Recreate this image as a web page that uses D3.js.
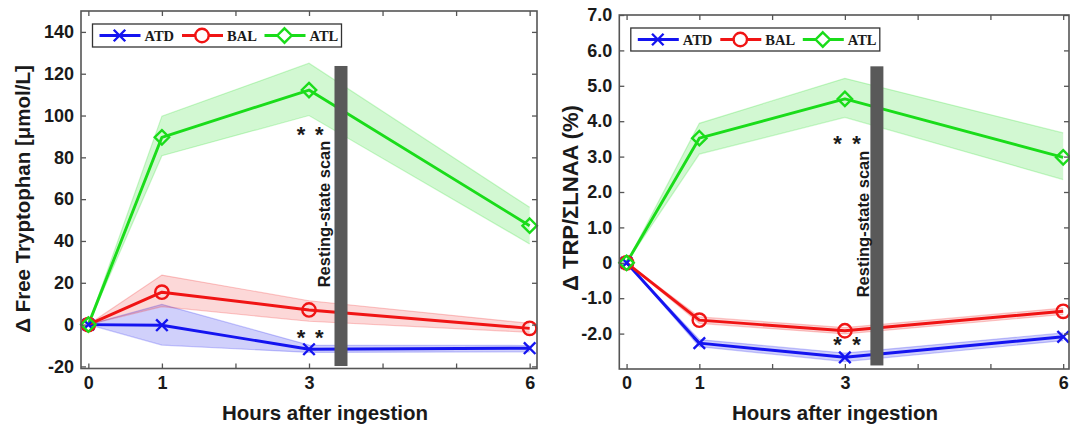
<!DOCTYPE html>
<html>
<head>
<meta charset="utf-8">
<script src="https://cdn.jsdelivr.net/npm/d3@7"></script>
<style>
    body{margin:0;background:#fff;}
    svg{display:block;font-family:"Liberation Sans",Arial,sans-serif;font-weight:bold;}
</style>
</head>
<body>
<svg id="chart" width="1070" height="426"></svg>
<script>
(function(){
    'use strict';

    // ---- data ----
    var hours = [0, 1, 3, 6];
    var hourTicks = [0, 1, 2, 3, 4, 5, 6];
    var hourLabels = {0: "0", 1: "1", 3: "3", 6: "6"};
    var groups = ["ATD", "BAL", "ATL"];

    // free tryptophan (umol/L), mean and band
    var trpATD   = [0, -0.3, -11.8, -11.3];
    var trpATDLo = [0, -9.8, -13.3, -13.0];
    var trpATDHi = [0,  9.7,  -9.8, -10.0];
    var trpBAL   = [0, 15.5,   7.0,  -1.8];
    var trpBALLo = [0,  8.6,   1.6,  -3.7];
    var trpBALHi = [0, 23.7,  11.4,   0.6];
    var trpATL   = [0, 89.6, 112.2,  47.3];
    var trpATLLo = [0, 80.8, 100.0,  38.6];
    var trpATLHi = [0, 99.7, 125.0,  56.1];
    var trpTicks = [-20, 0, 20, 40, 60, 80, 100, 120, 140];

    // TRP / sum LNAA (%), mean and band
    var ratioATD   = [0, -2.27, -2.67, -2.09];
    var ratioATDLo = [0, -2.37, -2.79, -2.20];
    var ratioATDHi = [0, -2.17, -2.55, -1.98];
    var ratioBAL   = [0, -1.62, -1.92, -1.37];
    var ratioBALLo = [0, -1.71, -2.01, -1.46];
    var ratioBALHi = [0, -1.53, -1.83, -1.28];
    var ratioATL   = [0,  3.52,  4.63,  2.98];
    var ratioATLLo = [0,  3.07,  4.11,  2.35];
    var ratioATLHi = [0,  3.94,  5.21,  3.67];
    var ratioTicks = [-2, -1, 0, 1, 2, 3, 4, 5, 6, 7];

    var colors = {ATD: "#1414f0", BAL: "#f01414", ATL: "#1adc1a"};
    var bandFill = {ATD: "rgba(40,40,235,0.22)", BAL: "rgba(240,40,40,0.18)", ATL: "rgba(30,220,30,0.2)"};

    var svg = d3.select("#chart");

    var panels = [
        {
            box: {left: 81, right: 537, top: 11, bottom: 368.5},
            xDomain: [-0.1, 6.1], yDomain: [-21, 150],
            yTicks: trpTicks, yFormat: function(v){ return String(v); },
            series: {ATD: [trpATD, trpATDLo, trpATDHi], BAL: [trpBAL, trpBALLo, trpBALHi], ATL: [trpATL, trpATLLo, trpATLHi]},
            scan: {hour: 3.435, lo: -19.8, hi: 123.7}, scanText: [324, 214],
            starHours: [2.89, 3.14], starLevels: [93.5, -4],
            yLabel: "\u0394 Free Tryptophan [\u03bcmol/L]", yLabelPos: [23, 199], yLabelSize: 20.5,
            xLabelPos: [325, 419.5]
        },
        {
            box: {left: 619.3, right: 1069, top: 15, bottom: 369},
            xDomain: [-0.1, 6.08], yDomain: [-3, 7],
            yTicks: ratioTicks, yFormat: function(v){ return v === 0 ? "0" : v.toFixed(1); },
            series: {ATD: [ratioATD, ratioATDLo, ratioATDHi], BAL: [ratioBAL, ratioBALLo, ratioBALHi], ATL: [ratioATL, ratioATLLo, ratioATLHi]},
            scan: {hour: 3.44, lo: -2.9, hi: 5.55}, scanText: [863, 224],
            starHours: [2.9, 3.16], starLevels: [3.5, -2.18],
            yLabel: "\u0394 TRP/\u03a3LNAA (%)", yLabelPos: [570, 198], yLabelSize: 22,
            xLabelPos: [835, 419.5]
        }
    ];

    function marker(sel, name, size){
        if(name === "ATD"){
            var s = size * 0.8;
            sel.append("path").attr("d", "M" + (-s) + "," + (-s) + "L" + s + "," + s + "M" + (-s) + "," + s + "L" + s + "," + (-s));
        }else if(name === "BAL"){
            sel.append("circle").attr("r", size * 0.93);
        }else{
            sel.append("path").attr("d", "M0," + (-size) + "L" + size + ",0L0," + size + "L" + (-size) + ",0Z");
        }
    }

    function drawPanel(p){
        var b = p.box;
        var x = d3.scaleLinear().domain(p.xDomain).range([b.left, b.right]);
        var y = d3.scaleLinear().domain(p.yDomain).range([b.bottom, b.top]);
        var g = svg.append("g");

        // bands
        groups.forEach(function(name){
            var s = p.series[name];
            var area = d3.area()
                .x(function(d, i){ return x(hours[i]); })
                .y0(function(d, i){ return y(s[1][i]); })
                .y1(function(d, i){ return y(s[2][i]); });
            g.append("path").datum(hours).attr("d", area).attr("fill", bandFill[name]);
            [1, 2].forEach(function(k){
                var edge = d3.line().x(function(d, i){ return x(hours[i]); }).y(function(d){ return y(d); });
                g.append("path").datum(s[k]).attr("d", edge)
                    .attr("fill", "none").attr("stroke", colors[name])
                    .attr("stroke-opacity", 0.22).attr("stroke-width", 1.2);
            });
        });

        // mean lines
        groups.forEach(function(name){
            var line = d3.line().x(function(d, i){ return x(hours[i]); }).y(function(d){ return y(d); });
            g.append("path").datum(p.series[name][0]).attr("d", line)
                .attr("fill", "none").attr("stroke", colors[name]).attr("stroke-width", 2.9)
                .attr("stroke-linejoin", "round");
        });

        // markers
        groups.forEach(function(name){
            g.selectAll(null).data(p.series[name][0]).enter()
                .append("g")
                .attr("transform", function(d, i){ return "translate(" + x(hours[i]) + "," + y(d) + ")"; })
                .attr("fill", "none").attr("stroke", colors[name]).attr("stroke-width", 2.4)
                .each(function(){ marker(d3.select(this), name, 7.2); });
        });

        // resting-state scan bar
        g.append("rect")
            .attr("x", x(p.scan.hour) - 6.5).attr("width", 13)
            .attr("y", y(p.scan.hi)).attr("height", y(p.scan.lo) - y(p.scan.hi))
            .attr("fill", "#595959");
        g.append("text")
            .attr("transform", "translate(" + p.scanText[0] + "," + p.scanText[1] + ") rotate(-90)")
            .attr("text-anchor", "middle").attr("dy", "0.36em")
            .attr("font-size", 16.5).attr("fill", "#1a1a1a")
            .text("Resting-state scan");

        // significance stars
        p.starLevels.forEach(function(lv){
            p.starHours.forEach(function(h){
                g.append("text").attr("x", x(h)).attr("y", y(lv) + 12.5)
                    .attr("text-anchor", "middle").attr("font-size", 22).attr("fill", "#1a1a1a")
                    .text("*");
            });
        });

        // axes, ticks pointing inward
        var tickStyle = function(a){
            a.select(".domain").remove();
            a.selectAll(".tick line").attr("stroke", "#555").attr("stroke-width", 1.3);
            a.selectAll(".tick text").attr("fill", "#1a1a1a").attr("font-size", 18).attr("font-family", null);
        };
        g.append("g").attr("transform", "translate(0," + b.bottom + ")")
            .call(d3.axisBottom(x).tickValues(hourTicks).tickSize(-5).tickPadding(7.5)
                .tickFormat(function(d){ return hourLabels[d] || ""; }))
            .call(tickStyle);
        g.append("g").attr("transform", "translate(0," + b.top + ")")
            .call(d3.axisTop(x).tickValues(hourTicks).tickSize(-5).tickFormat(""))
            .call(tickStyle);
        g.append("g").attr("transform", "translate(" + b.left + ",0)")
            .call(d3.axisLeft(y).tickValues(p.yTicks).tickSize(-5).tickPadding(7).tickFormat(p.yFormat))
            .call(tickStyle);
        g.append("g").attr("transform", "translate(" + b.right + ",0)")
            .call(d3.axisRight(y).tickValues(p.yTicks).tickSize(-5).tickFormat(""))
            .call(tickStyle);
        g.selectAll("text").attr("font-weight", "bold");

        g.append("rect")
            .attr("x", b.left).attr("y", b.top)
            .attr("width", b.right - b.left).attr("height", b.bottom - b.top)
            .attr("fill", "none").attr("stroke", "#555").attr("stroke-width", 1.6);

        // legend
        var lg = g.append("g").attr("transform", "translate(" + (b.left + 11.5) + "," + (b.top + 13) + ")");
        lg.append("rect").attr("width", 249).attr("height", 23)
            .attr("fill", "#fff").attr("stroke", "#333").attr("stroke-width", 1.3);
        groups.forEach(function(name, i){
            var ox = i * 82.5;
            lg.append("line").attr("x1", ox + 7).attr("x2", ox + 48).attr("y1", 11.5).attr("y2", 11.5)
                .attr("stroke", colors[name]).attr("stroke-width", 2.9);
            var m = lg.append("g").attr("transform", "translate(" + (ox + 27) + ",11.5)")
                .attr("fill", name === "ATD" ? "none" : "#fff")
                .attr("stroke", colors[name]).attr("stroke-width", 2.4);
            marker(m, name, 7.2);
            lg.append("text").attr("x", ox + 52).attr("y", 16.5)
                .attr("font-family", "'Liberation Serif','Times New Roman',serif")
                .attr("font-size", 14.5).attr("font-weight", "bold").attr("fill", "#1a1a1a")
                .text(name);
        });

        // axis titles
        g.append("text")
            .attr("transform", "translate(" + p.yLabelPos[0] + "," + p.yLabelPos[1] + ") rotate(-90)")
            .attr("text-anchor", "middle").attr("dy", "0.36em")
            .attr("font-size", p.yLabelSize).attr("fill", "#1a1a1a")
            .text(p.yLabel);
        g.append("text")
            .attr("x", p.xLabelPos[0]).attr("y", p.xLabelPos[1])
            .attr("text-anchor", "middle").attr("font-size", 20.5).attr("fill", "#1a1a1a")
            .text("Hours after ingestion");
    }

    panels.forEach(drawPanel);
}());
</script>
</body>
</html>
